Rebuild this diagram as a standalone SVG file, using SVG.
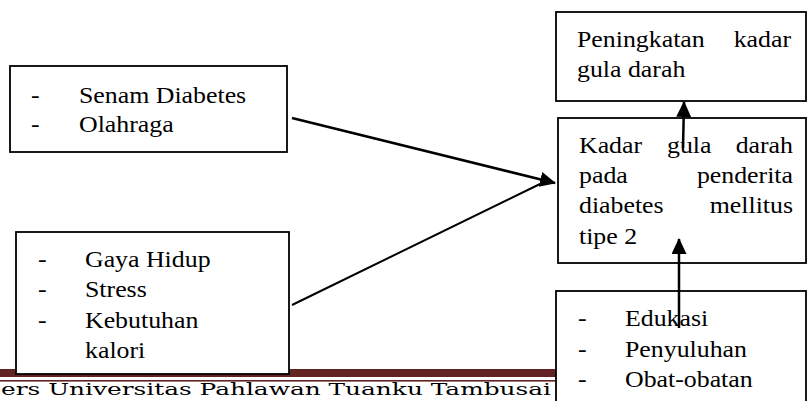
<svg xmlns="http://www.w3.org/2000/svg" width="808" height="401" viewBox="0 0 808 401">
<style>
.box{fill:#fff;stroke:#000;stroke-width:1.8}
.t{font-family:"Liberation Serif","Times New Roman",serif;font-size:23.5px;fill:#000}
.e{text-anchor:end}
.c{stroke:#000;fill:none}
</style>
<defs>
<marker id="ah" markerUnits="userSpaceOnUse" markerWidth="18" markerHeight="16" refX="15" refY="7.5" orient="auto">
<path d="M0,0 L16,7.5 L0,15 z" fill="#000"/>
</marker>
</defs>
<rect width="808" height="401" fill="#fff"/>
<g id="footer">
<rect x="0" y="369" width="556" height="8" fill="#622423"/>
<rect x="0" y="380" width="556" height="1.6" fill="#622423"/>
<text x="1" y="395" font-family="'DejaVu Serif',serif" font-size="17" fill="#000" textLength="550" lengthAdjust="spacingAndGlyphs">ers Universitas Pahlawan Tuanku Tambusai</text>
</g>
<g id="node-senam">
<rect class="box" x="10" y="66" width="277" height="86"/>
<text class="t" transform="translate(31,103) scale(1.1,1)">-</text>
<text class="t" transform="translate(79,103) scale(1.1,1)">Senam Diabetes</text>
<text class="t" transform="translate(31,132) scale(1.1,1)">-</text>
<text class="t" transform="translate(79,132) scale(1.1,1)">Olahraga</text>
</g>
<g id="node-gaya">
<rect class="box" x="16" y="232" width="273" height="142"/>
<text class="t" transform="translate(38,267) scale(1.1,1)">-</text>
<text class="t" transform="translate(85,267) scale(1.1,1)">Gaya Hidup</text>
<text class="t" transform="translate(38,297) scale(1.1,1)">-</text>
<text class="t" transform="translate(85,297) scale(1.1,1)">Stress</text>
<text class="t" transform="translate(38,328) scale(1.1,1)">-</text>
<text class="t" transform="translate(85,328) scale(1.1,1)">Kebutuhan</text>
<text class="t" transform="translate(85,358) scale(1.1,1)">kalori</text>
</g>
<g id="node-peningkatan">
<rect class="box" x="556" y="12" width="250" height="89"/>
<text class="t" transform="translate(577,47) scale(1.1,1)">Peningkatan</text>
<text class="t e" transform="translate(791,47) scale(1.1,1)">kadar</text>
<text class="t" transform="translate(577,77) scale(1.1,1)">gula darah</text>
</g>
<g id="node-kadar">
<rect class="box" x="558" y="118" width="248" height="145"/>
<text class="t" transform="translate(579,153) scale(1.1,1)">Kadar</text>
<text class="t" transform="translate(667,153) scale(1.1,1)">gula</text>
<text class="t e" transform="translate(793,153) scale(1.1,1)">darah</text>
<text class="t" transform="translate(579,183) scale(1.1,1)">pada</text>
<text class="t e" transform="translate(793,183) scale(1.1,1)">penderita</text>
<text class="t" transform="translate(579,213) scale(1.1,1)">diabetes</text>
<text class="t e" transform="translate(793,213) scale(1.1,1)">mellitus</text>
<text class="t" transform="translate(579,244) scale(1.1,1)">tipe 2</text>
</g>
<g id="node-edukasi">
<rect class="box" x="556" y="291" width="250" height="130"/>
<text class="t" transform="translate(578,326) scale(1.1,1)">-</text>
<text class="t" transform="translate(625,326) scale(1.1,1)">Edukasi</text>
<text class="t" transform="translate(578,357) scale(1.1,1)">-</text>
<text class="t" transform="translate(625,357) scale(1.1,1)">Penyuluhan</text>
<text class="t" transform="translate(578,387) scale(1.1,1)">-</text>
<text class="t" transform="translate(625,387) scale(1.1,1)">Obat-obatan</text>
</g>
<g id="connectors">
<line class="c" x1="292" y1="118" x2="555" y2="183" stroke-width="2.5" marker-end="url(#ah)"/>
<line class="c" x1="292" y1="305" x2="540" y2="184" stroke-width="2"/>
<line class="c" x1="683" y1="148" x2="684" y2="102" stroke-width="2.5" marker-end="url(#ah)"/>
<line class="c" x1="679" y1="328" x2="679" y2="239" stroke-width="2.5" marker-end="url(#ah)"/>
</g>
</svg>
